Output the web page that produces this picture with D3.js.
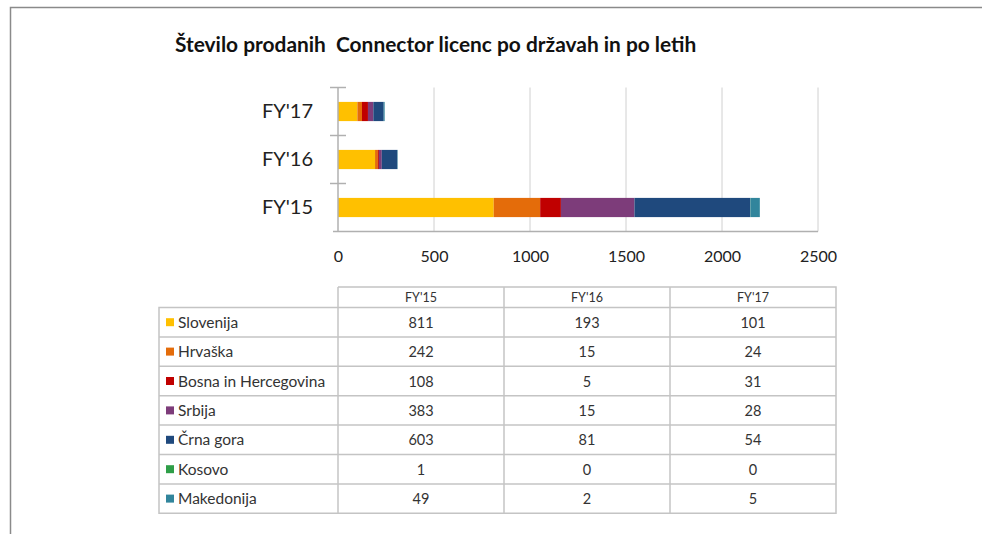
<!DOCTYPE html>
<html><head><meta charset="utf-8">
<script src="https://cdn.jsdelivr.net/npm/d3@7"></script>
<style>body{margin:0;background:#fff}svg{display:block}</style>
</head><body>
<script>
const years = ["FY'15", "FY'16", "FY'17"];
const countries = ["Slovenija", "Hrvaška", "Bosna in Hercegovina", "Srbija", "Črna gora", "Kosovo", "Makedonija"];
const colors = ["#FFC000", "#E46C0A", "#C00000", "#7D3C7A", "#1F497D", "#2E9E48", "#31859C"];
const slovenija = [811, 193, 101];
const hrvaska = [242, 15, 24];
const bosna = [108, 5, 31];
const srbija = [383, 15, 28];
const crnaGora = [603, 81, 54];
const kosovo = [1, 0, 0];
const makedonija = [49, 2, 5];
const xTicks = [0, 500, 1000, 1500, 2000, 2500];
const title = "Število prodanih  Connector licenc po državah in po letih";

const series = [slovenija, hrvaska, bosna, srbija, crnaGora, kosovo, makedonija];
const rows = years.map((y, i) => {
  const o = {year: y};
  countries.forEach((c, j) => o[c] = series[j][i]);
  return o;
});

const W = 982, H = 534;
const svg = d3.select("body").append("svg").attr("width", W).attr("height", H);
const font = "Lato, 'Open Sans', sans-serif";

// frame
svg.append("path").attr("d", `M10.5,${H} V7.5 H${W}`).attr("fill", "none").attr("stroke", "#8a8a8a").attr("stroke-width", 1.5);

// title
svg.append("text").attr("x", 175).attr("y", 52).attr("font-family", font).attr("font-weight", "bold")
  .attr("font-size", 20.9).attr("fill", "#111").style("white-space", "pre").text(title);

const plotTop = 87.5, plotBottom = 231.5;
const x = d3.scaleLinear().domain([0, 2500]).range([338, 818]);
const y = d3.scaleBand().domain(["FY'17", "FY'16", "FY'15"]).range([plotTop, plotBottom]).paddingInner(0.6).paddingOuter(0.3);

// grid
svg.append("g").selectAll("line").data(xTicks.slice(1)).join("line")
  .attr("x1", d => x(d)).attr("x2", d => x(d)).attr("y1", plotTop).attr("y2", plotBottom)
  .attr("stroke", "#d0d0d0").attr("stroke-width", 1);

// stacked bars
const stack = d3.stack().keys(countries)(rows);
svg.append("g").selectAll("g").data(stack).join("g")
  .attr("fill", (d, i) => colors[i])
  .selectAll("rect").data(d => d).join("rect")
  .attr("x", d => x(d[0])).attr("width", d => x(d[1]) - x(d[0]))
  .attr("y", d => y(d.data.year)).attr("height", y.bandwidth());

// x axis
const xAxis = svg.append("g").attr("transform", `translate(0,${plotBottom})`)
  .call(d3.axisBottom(x).tickValues(xTicks).tickSize(0).tickPadding(19).tickFormat(d3.format("d")));
xAxis.select(".domain").attr("stroke", "#b0b0b0").attr("stroke-width", 1.5).attr("d", "M333,0H818");
xAxis.selectAll("text").attr("font-family", font).attr("font-size", 16).attr("fill", "#222");

// y axis
const yAxis = svg.append("g").attr("transform", "translate(338,0)")
  .call(d3.axisLeft(y).tickSize(0).tickPadding(25));
yAxis.select(".domain").attr("stroke", "#b0b0b0").attr("stroke-width", 1.5).attr("d", `M0,${plotTop}V${plotBottom}`);
yAxis.selectAll("text").attr("font-family", font).attr("font-size", 20).attr("fill", "#222");
// category separator ticks
const step = (plotBottom - plotTop) / 3;
const sep = [0, 1, 2].map(i => plotTop + i * step);
svg.append("g").selectAll("line").data(sep).join("line")
  .attr("x1", 330).attr("x2", 346).attr("y1", d => d).attr("y2", d => d)
  .attr("stroke", "#b0b0b0").attr("stroke-width", 1.5);

// data table
const colX = d3.scaleBand().domain(years).range([338, 836]);
const headTop = 287, headBot = 307.5, rowH = 29.4;
const rowY = d3.scaleBand().domain(countries).range([headBot, headBot + rowH * countries.length]);
const tableBottom = headBot + rowH * countries.length;
const tb = svg.append("g").attr("stroke", "#c4c4c4").attr("stroke-width", 1.5).attr("fill", "none");
tb.append("path").attr("d", `M338,${headTop}H836V${tableBottom}H159V${headBot}H836`);
tb.append("line").attr("x1", 338).attr("x2", 338).attr("y1", headTop).attr("y2", tableBottom);
years.slice(1).forEach(yr => tb.append("line").attr("x1", colX(yr)).attr("x2", colX(yr)).attr("y1", headTop).attr("y2", tableBottom));
countries.slice(1).forEach(c => tb.append("line").attr("x1", 159).attr("x2", 836).attr("y1", rowY(c)).attr("y2", rowY(c)));

svg.append("g").selectAll("text").data(years).join("text")
  .attr("x", d => colX(d) + colX.bandwidth() / 2).attr("y", (headTop + headBot) / 2 + 4.5)
  .attr("text-anchor", "middle").attr("font-family", font).attr("font-size", 12.5).attr("fill", "#333").text(d => d);

const rg = svg.append("g").selectAll("g").data(countries).join("g")
  .attr("transform", d => `translate(0,${rowY(d) + rowY.bandwidth() / 2})`);
rg.append("rect").attr("x", 166).attr("y", -4).attr("width", 8).attr("height", 8).attr("fill", (d, i) => colors[i]);
rg.append("text").attr("x", 178).attr("y", 5.5).attr("font-family", font).attr("font-size", 15.5).attr("fill", "#333").text(d => d);
rg.each(function(c, j) {
  d3.select(this).selectAll("text.v").data(years).join("text").attr("class", "v")
    .attr("x", yr => colX(yr) + colX.bandwidth() / 2).attr("y", 5.5).attr("text-anchor", "middle")
    .attr("font-family", font).attr("font-size", 14.5).attr("fill", "#333")
    .text((yr, i) => series[j][i]);
});
</script>
</body></html>
